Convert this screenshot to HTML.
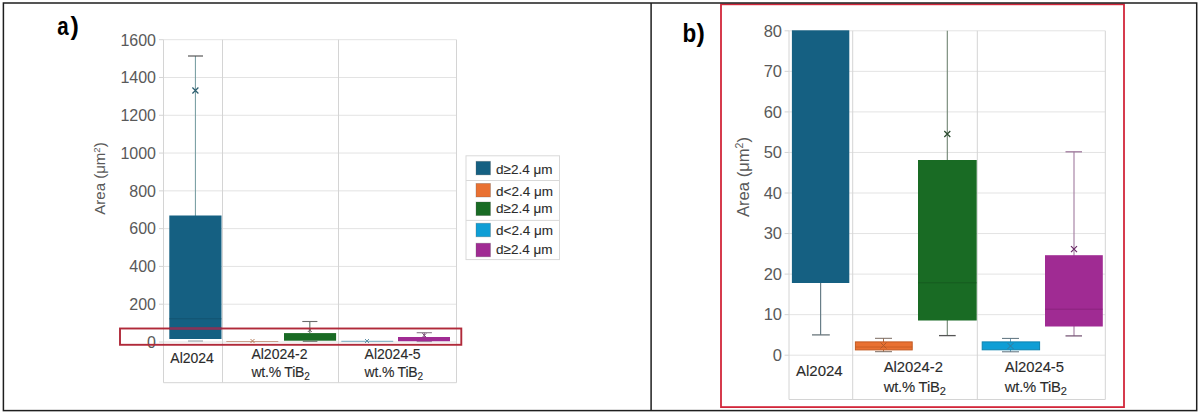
<!DOCTYPE html>
<html><head><meta charset="utf-8"><style>
html,body{margin:0;padding:0;background:#fff;}
body{width:1200px;height:414px;overflow:hidden;}
svg{display:block;font-family:"Liberation Sans", sans-serif;}
</style></head><body>
<svg width="1200" height="414" viewBox="0 0 1200 414" font-family='"Liberation Sans", sans-serif'>
<rect width="1200" height="414" fill="#fff"/>
<line x1="163.5" y1="342" x2="456.5" y2="342" stroke="#e3e3e3" stroke-width="1"/>
<line x1="159" y1="342" x2="163.5" y2="342" stroke="#d4d4d4" stroke-width="1"/>
<text x="156" y="347.8" text-anchor="end" font-size="16" fill="#595959">0</text>
<line x1="163.5" y1="304.21" x2="456.5" y2="304.21" stroke="#e3e3e3" stroke-width="1"/>
<line x1="159" y1="304.21" x2="163.5" y2="304.21" stroke="#d4d4d4" stroke-width="1"/>
<text x="156" y="310.01" text-anchor="end" font-size="16" fill="#595959">200</text>
<line x1="163.5" y1="266.42" x2="456.5" y2="266.42" stroke="#e3e3e3" stroke-width="1"/>
<line x1="159" y1="266.42" x2="163.5" y2="266.42" stroke="#d4d4d4" stroke-width="1"/>
<text x="156" y="272.22" text-anchor="end" font-size="16" fill="#595959">400</text>
<line x1="163.5" y1="228.64" x2="456.5" y2="228.64" stroke="#e3e3e3" stroke-width="1"/>
<line x1="159" y1="228.64" x2="163.5" y2="228.64" stroke="#d4d4d4" stroke-width="1"/>
<text x="156" y="234.44" text-anchor="end" font-size="16" fill="#595959">600</text>
<line x1="163.5" y1="190.85" x2="456.5" y2="190.85" stroke="#e3e3e3" stroke-width="1"/>
<line x1="159" y1="190.85" x2="163.5" y2="190.85" stroke="#d4d4d4" stroke-width="1"/>
<text x="156" y="196.65" text-anchor="end" font-size="16" fill="#595959">800</text>
<line x1="163.5" y1="153.06" x2="456.5" y2="153.06" stroke="#e3e3e3" stroke-width="1"/>
<line x1="159" y1="153.06" x2="163.5" y2="153.06" stroke="#d4d4d4" stroke-width="1"/>
<text x="156" y="158.86" text-anchor="end" font-size="16" fill="#595959">1000</text>
<line x1="163.5" y1="115.27" x2="456.5" y2="115.27" stroke="#e3e3e3" stroke-width="1"/>
<line x1="159" y1="115.27" x2="163.5" y2="115.27" stroke="#d4d4d4" stroke-width="1"/>
<text x="156" y="121.07" text-anchor="end" font-size="16" fill="#595959">1200</text>
<line x1="163.5" y1="77.48" x2="456.5" y2="77.48" stroke="#e3e3e3" stroke-width="1"/>
<line x1="159" y1="77.48" x2="163.5" y2="77.48" stroke="#d4d4d4" stroke-width="1"/>
<text x="156" y="83.28" text-anchor="end" font-size="16" fill="#595959">1400</text>
<line x1="163.5" y1="39.7" x2="456.5" y2="39.7" stroke="#e3e3e3" stroke-width="1"/>
<line x1="159" y1="39.7" x2="163.5" y2="39.7" stroke="#d4d4d4" stroke-width="1"/>
<text x="156" y="45.5" text-anchor="end" font-size="16" fill="#595959">1600</text>
<line x1="163.5" y1="39.7" x2="163.5" y2="382.7" stroke="#d4d4d4" stroke-width="1"/>
<line x1="222.5" y1="39.7" x2="222.5" y2="382.7" stroke="#d4d4d4" stroke-width="1"/>
<line x1="338.5" y1="39.7" x2="338.5" y2="382.7" stroke="#d4d4d4" stroke-width="1"/>
<line x1="456.5" y1="39.7" x2="456.5" y2="382.7" stroke="#d4d4d4" stroke-width="1"/>
<line x1="163.5" y1="382.7" x2="456.5" y2="382.7" stroke="#d4d4d4" stroke-width="1"/>
<line x1="195.4" y1="56" x2="195.4" y2="216" stroke="#6f979c" stroke-width="1"/>
<line x1="188" y1="56" x2="203" y2="56" stroke="#4a4a4a" stroke-width="1.1"/>
<rect x="169.3" y="215.5" width="52.2" height="123.5" fill="#156082"/>
<line x1="169.3" y1="318.8" x2="221.5" y2="318.8" stroke="#0f4a66" stroke-width="0.8" stroke-opacity="0.8"/>
<line x1="188" y1="341" x2="203" y2="341" stroke="#7f8f96" stroke-width="0.9"/>
<path d="M192.4 87.5L198.4 93.5M192.4 93.5L198.4 87.5" stroke="#2b5d6e" stroke-width="1.2" fill="none"/>
<line x1="226.3" y1="341.5" x2="278.3" y2="341.5" stroke="#c9a08c" stroke-width="1.2"/>
<path d="M250.5 339L254.5 343M250.5 343L254.5 339" stroke="#b9805f" stroke-width="1" fill="none"/>
<line x1="309.8" y1="321.5" x2="309.8" y2="333.1" stroke="#6f7f72" stroke-width="1.2"/>
<line x1="302.3" y1="321.5" x2="317.4" y2="321.5" stroke="#6c6c6c" stroke-width="1.1"/>
<rect x="284" y="333.1" width="52.1" height="7.6" fill="#196B24"/>
<line x1="302.8" y1="341.3" x2="317.4" y2="341.3" stroke="#4f5f52" stroke-width="0.9"/>
<path d="M307.8 328L311.8 332M307.8 332L311.8 328" stroke="#666" stroke-width="1" fill="none"/>
<line x1="341.3" y1="341.4" x2="393.2" y2="341.4" stroke="#8fb7c8" stroke-width="1.2"/>
<path d="M365 339L369 343M365 343L369 339" stroke="#5f8fa6" stroke-width="1" fill="none"/>
<line x1="424.3" y1="332.5" x2="424.3" y2="337" stroke="#8a6a88" stroke-width="1.2"/>
<line x1="416.7" y1="332.7" x2="431.9" y2="332.7" stroke="#8a7a8a" stroke-width="1.1"/>
<line x1="416.7" y1="341.6" x2="431.9" y2="341.6" stroke="#8a6a88" stroke-width="0.8"/>
<rect x="398" y="337" width="52" height="4.2" fill="#A02B93"/>
<path d="M422.3 333.3L426.3 337.3M422.3 337.3L426.3 333.3" stroke="#7a4a78" stroke-width="1" fill="none"/>
<text x="170.3" y="362.6" font-size="14" fill="#2b2b2b" stroke="#2b2b2b" stroke-width="0.12">Al2024</text>
<text x="251.4" y="359.2" font-size="14" fill="#2b2b2b" stroke="#2b2b2b" stroke-width="0.12">Al2024-2</text>
<text x="251.4" y="377.2" font-size="14" letter-spacing="-0.2" fill="#2b2b2b" stroke="#2b2b2b" stroke-width="0.12">wt.% TiB<tspan font-size="10" dy="3">2</tspan></text>
<text x="364.6" y="359.1" font-size="14" fill="#2b2b2b" stroke="#2b2b2b" stroke-width="0.12">Al2024-5</text>
<text x="364.6" y="377.2" font-size="14" letter-spacing="-0.2" fill="#2b2b2b" stroke="#2b2b2b" stroke-width="0.12">wt.% TiB<tspan font-size="10" dy="3">2</tspan></text>
<text transform="translate(105.2,178.5) rotate(-90)" text-anchor="middle" font-size="15" fill="#595959">Area (μm<tspan font-size="9.5" dy="-5">2</tspan><tspan dy="5">)</tspan></text>
<rect x="466" y="155.8" width="93.5" height="103.8" fill="#fff" stroke="#d9d9d9" stroke-width="1"/>
<line x1="466" y1="180.5" x2="559.5" y2="180.5" stroke="#d9d9d9" stroke-width="1"/>
<line x1="466" y1="220.4" x2="559.5" y2="220.4" stroke="#d9d9d9" stroke-width="1"/>
<rect x="476" y="161.3" width="14.5" height="13.6" fill="#156082" stroke="#555" stroke-opacity="0.35" stroke-width="0.8"/>
<text x="496" y="173.5" font-size="13.5" fill="#2b2b2b" stroke="#2b2b2b" stroke-width="0.12">d≥2.4 μm</text>
<rect x="476" y="183.4" width="14.5" height="13.6" fill="#E97132" stroke="#555" stroke-opacity="0.35" stroke-width="0.8"/>
<text x="496" y="195.7" font-size="13.5" fill="#2b2b2b" stroke="#2b2b2b" stroke-width="0.12">d&lt;2.4 μm</text>
<rect x="476" y="202" width="14.5" height="13.6" fill="#196B24" stroke="#555" stroke-opacity="0.35" stroke-width="0.8"/>
<text x="496" y="212.9" font-size="13.5" fill="#2b2b2b" stroke="#2b2b2b" stroke-width="0.12">d≥2.4 μm</text>
<rect x="476" y="223.2" width="14.5" height="13.6" fill="#0F9ED5" stroke="#555" stroke-opacity="0.35" stroke-width="0.8"/>
<text x="496" y="234.8" font-size="13.5" fill="#2b2b2b" stroke="#2b2b2b" stroke-width="0.12">d&lt;2.4 μm</text>
<rect x="476" y="243.2" width="14.5" height="13.6" fill="#A02B93" stroke="#555" stroke-opacity="0.35" stroke-width="0.8"/>
<text x="496" y="254.2" font-size="13.5" fill="#2b2b2b" stroke="#2b2b2b" stroke-width="0.12">d≥2.4 μm</text>
<rect x="120" y="328.5" width="341.3" height="16.3" fill="none" stroke="#b02a3a" stroke-width="1.9"/>
<line x1="169.3" y1="328.5" x2="221.5" y2="328.5" stroke="#86335a" stroke-width="2.2"/>
<line x1="789" y1="355.2" x2="1105.3" y2="355.2" stroke="#e3e3e3" stroke-width="1"/>
<line x1="784.6" y1="355.2" x2="789" y2="355.2" stroke="#d4d4d4" stroke-width="1"/>
<text x="782" y="361" text-anchor="end" font-size="16.5" fill="#595959">0</text>
<line x1="789" y1="314.65" x2="1105.3" y2="314.65" stroke="#e3e3e3" stroke-width="1"/>
<line x1="784.6" y1="314.65" x2="789" y2="314.65" stroke="#d4d4d4" stroke-width="1"/>
<text x="782" y="320.45" text-anchor="end" font-size="16.5" fill="#595959">10</text>
<line x1="789" y1="274.1" x2="1105.3" y2="274.1" stroke="#e3e3e3" stroke-width="1"/>
<line x1="784.6" y1="274.1" x2="789" y2="274.1" stroke="#d4d4d4" stroke-width="1"/>
<text x="782" y="279.9" text-anchor="end" font-size="16.5" fill="#595959">20</text>
<line x1="789" y1="233.55" x2="1105.3" y2="233.55" stroke="#e3e3e3" stroke-width="1"/>
<line x1="784.6" y1="233.55" x2="789" y2="233.55" stroke="#d4d4d4" stroke-width="1"/>
<text x="782" y="239.35" text-anchor="end" font-size="16.5" fill="#595959">30</text>
<line x1="789" y1="193" x2="1105.3" y2="193" stroke="#e3e3e3" stroke-width="1"/>
<line x1="784.6" y1="193" x2="789" y2="193" stroke="#d4d4d4" stroke-width="1"/>
<text x="782" y="198.8" text-anchor="end" font-size="16.5" fill="#595959">40</text>
<line x1="789" y1="152.45" x2="1105.3" y2="152.45" stroke="#e3e3e3" stroke-width="1"/>
<line x1="784.6" y1="152.45" x2="789" y2="152.45" stroke="#d4d4d4" stroke-width="1"/>
<text x="782" y="158.25" text-anchor="end" font-size="16.5" fill="#595959">50</text>
<line x1="789" y1="111.9" x2="1105.3" y2="111.9" stroke="#e3e3e3" stroke-width="1"/>
<line x1="784.6" y1="111.9" x2="789" y2="111.9" stroke="#d4d4d4" stroke-width="1"/>
<text x="782" y="117.7" text-anchor="end" font-size="16.5" fill="#595959">60</text>
<line x1="789" y1="71.35" x2="1105.3" y2="71.35" stroke="#e3e3e3" stroke-width="1"/>
<line x1="784.6" y1="71.35" x2="789" y2="71.35" stroke="#d4d4d4" stroke-width="1"/>
<text x="782" y="77.15" text-anchor="end" font-size="16.5" fill="#595959">70</text>
<line x1="789" y1="30.8" x2="1105.3" y2="30.8" stroke="#e3e3e3" stroke-width="1"/>
<line x1="784.6" y1="30.8" x2="789" y2="30.8" stroke="#d4d4d4" stroke-width="1"/>
<text x="782" y="36.6" text-anchor="end" font-size="16.5" fill="#595959">80</text>
<line x1="789" y1="30.8" x2="789" y2="399.5" stroke="#d4d4d4" stroke-width="1"/>
<line x1="852.7" y1="30.8" x2="852.7" y2="399.5" stroke="#d4d4d4" stroke-width="1"/>
<line x1="977.3" y1="30.8" x2="977.3" y2="399.5" stroke="#d4d4d4" stroke-width="1"/>
<line x1="1105.3" y1="30.8" x2="1105.3" y2="399.5" stroke="#d4d4d4" stroke-width="1"/>
<line x1="789" y1="399.5" x2="1105.3" y2="399.5" stroke="#d4d4d4" stroke-width="1"/>
<line x1="820.6" y1="283" x2="820.6" y2="334.8" stroke="#687e88" stroke-width="1.2"/>
<line x1="812" y1="334.9" x2="829.8" y2="334.9" stroke="#5d6a70" stroke-width="1.2"/>
<rect x="791.9" y="30.3" width="57.4" height="252.7" fill="#156082"/>
<line x1="883.5" y1="338.3" x2="883.5" y2="351.7" stroke="#a0704f" stroke-width="1"/>
<line x1="875" y1="338.3" x2="892" y2="338.3" stroke="#7a6a60" stroke-width="1"/>
<line x1="875" y1="351.7" x2="892" y2="351.7" stroke="#7a6a60" stroke-width="1"/>
<rect x="855.4" y="341.9" width="56.8" height="8" fill="#E97132" stroke="#c25a22" stroke-width="1"/>
<line x1="855.4" y1="347" x2="912.2" y2="347" stroke="#c25a22" stroke-width="0.8"/>
<path d="M880.5 342.5L886.5 348.5M880.5 348.5L886.5 342.5" stroke="#b05a2a" stroke-width="1" fill="none"/>
<line x1="947.3" y1="30.8" x2="947.3" y2="335.6" stroke="#6f8472" stroke-width="1.1"/>
<line x1="939" y1="335.6" x2="955.7" y2="335.6" stroke="#555" stroke-width="1.3"/>
<rect x="918" y="160" width="58.7" height="160.5" fill="#196B24"/>
<line x1="918" y1="282.8" x2="976.7" y2="282.8" stroke="#134f1b" stroke-width="0.8" stroke-opacity="0.7"/>
<path d="M944.3 131L950.3 137M944.3 137L950.3 131" stroke="#2a4a2e" stroke-width="1.2" fill="none"/>
<line x1="1010.5" y1="338.3" x2="1010.5" y2="351.7" stroke="#6a9ab5" stroke-width="1"/>
<line x1="1002" y1="338.4" x2="1019" y2="338.4" stroke="#5a6f7c" stroke-width="1"/>
<line x1="1002" y1="351.8" x2="1019" y2="351.8" stroke="#5a6f7c" stroke-width="1"/>
<rect x="982.2" y="341.9" width="57.4" height="7.9" fill="#0F9ED5" stroke="#0b82b0" stroke-width="1"/>
<path d="M1007.5 343L1013.5 349M1007.5 349L1013.5 343" stroke="#3a7a9a" stroke-width="1" fill="none"/>
<line x1="1074" y1="151.8" x2="1074" y2="335.9" stroke="#a07a9e" stroke-width="1.1"/>
<line x1="1065.5" y1="151.8" x2="1082" y2="151.8" stroke="#a07a9e" stroke-width="1.3"/>
<line x1="1065.5" y1="335.9" x2="1082" y2="335.9" stroke="#7a5a78" stroke-width="1.3"/>
<rect x="1045" y="255.2" width="57.8" height="71.3" fill="#A02B93"/>
<line x1="1045" y1="309.2" x2="1102.8" y2="309.2" stroke="#7a1f70" stroke-width="0.8" stroke-opacity="0.7"/>
<path d="M1071 246.1L1077 252.1M1071 252.1L1077 246.1" stroke="#6a2a66" stroke-width="1.2" fill="none"/>
<text x="796" y="376" font-size="15" fill="#2b2b2b" stroke="#2b2b2b" stroke-width="0.12">Al2024</text>
<text x="883.7" y="372.2" font-size="14.8" fill="#2b2b2b" stroke="#2b2b2b" stroke-width="0.12">Al2024-2</text>
<text x="883.7" y="391.6" font-size="14.8" letter-spacing="-0.2" fill="#2b2b2b" stroke="#2b2b2b" stroke-width="0.12">wt.% TiB<tspan font-size="11" dy="3.2">2</tspan></text>
<text x="1004.8" y="372.2" font-size="14.8" fill="#2b2b2b" stroke="#2b2b2b" stroke-width="0.12">Al2024-5</text>
<text x="1004.8" y="391.6" font-size="14.8" letter-spacing="-0.2" fill="#2b2b2b" stroke="#2b2b2b" stroke-width="0.12">wt.% TiB<tspan font-size="11" dy="3.2">2</tspan></text>
<text transform="translate(748.6,177) rotate(-90)" text-anchor="middle" font-size="16.6" fill="#595959">Area (μm<tspan font-size="10.5" dy="-5.5">2</tspan><tspan dy="5.5">)</tspan></text>
<rect x="721" y="4.3" width="403" height="402.8" fill="none" stroke="#d2263a" stroke-width="1.8"/>
<rect x="3.4" y="3" width="1193.3" height="407.6" fill="none" stroke="#1e1e1e" stroke-width="1.5"/>
<line x1="651.1" y1="3" x2="651.1" y2="410.6" stroke="#1e1e1e" stroke-width="1.5"/>
<text transform="translate(57.2,35) scale(0.82,1)" x="0" y="0" font-size="25" font-weight="bold" fill="#000">a</text>
<text x="70.6" y="35.1" font-size="25" font-weight="bold" fill="#000">)</text>
<text transform="translate(682.5,41.9) scale(0.9,1)" x="0" y="0" font-size="25" font-weight="bold" fill="#000">b</text>
<text x="696.6" y="42.2" font-size="25" font-weight="bold" fill="#000">)</text>
</svg>
</body></html>
